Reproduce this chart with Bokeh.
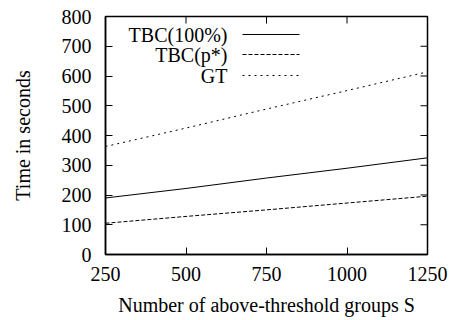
from bokeh.plotting import figure
from bokeh.models import Range1d, FixedTicker, Label, Arrow
from bokeh.embed import file_html
from bokeh.resources import INLINE

# data
groups = [250, 500, 750, 1000, 1250]
tbc_100 = [190, 222, 257, 290, 325]
tbc_p = [105, 128, 150, 173, 196]
gt = [363, 425, 489, 551, 614]
x_ticks = [250, 500, 750, 1000, 1250]
y_ticks = [0, 100, 200, 300, 400, 500, 600, 700, 800]
series_names = ["TBC(100%)", "TBC(p*)", "GT"]

FONT = "Liberation Serif"
FS = "20px"
X0, X1, Y0, Y1 = 250, 1250, 0, 800
FW, FH = 322, 238
TICK = 7

p = figure(frame_width=FW, frame_height=FH, output_backend="svg",
           toolbar_location=None, x_range=Range1d(X0, X1), y_range=Range1d(Y0, Y1),
           min_border_left=105, min_border_top=16, min_border_right=25, min_border_bottom=66,
           x_axis_label="Number of above-threshold groups S", y_axis_label="Time in seconds")
p.background_fill_color = "white"
p.border_fill_color = "white"
p.grid.visible = False
p.outline_line_color = "black"
p.outline_line_width = 1.5

styles = [dict(line_dash="solid"), dict(line_dash="4 2"), dict(line_dash="2 4")]
for ys, st in zip([tbc_100, tbc_p, gt], styles):
    p.line(groups, ys, line_color="black", line_width=1, **st)

for ax, ticks in ((p.xaxis[0], x_ticks), (p.yaxis[0], y_ticks)):
    ax.ticker = FixedTicker(ticks=ticks)
    ax.axis_line_color = "black"
    ax.axis_line_width = 1.5
    ax.major_tick_in = TICK
    ax.major_tick_out = 0
    ax.major_tick_line_width = 1
    ax.minor_tick_line_color = None
    ax.major_label_text_font = FONT
    ax.major_label_text_font_size = FS
    ax.major_label_text_color = "black"
    ax.axis_label_text_font = FONT
    ax.axis_label_text_font_size = FS
    ax.axis_label_text_font_style = "normal"
    ax.axis_label_text_color = "black"
p.xaxis.major_label_standoff = 12
p.xaxis.axis_label_standoff = 10
p.yaxis.major_label_standoff = 14
p.yaxis.axis_label_standoff = 25

# mirrored inward ticks on top and right edges
dx = TICK * (X1 - X0) / FW
dy = TICK * (Y1 - Y0) / FH
p.segment(x0=x_ticks, y0=[Y1] * len(x_ticks), x1=x_ticks, y1=[Y1 - dy] * len(x_ticks),
          line_color="black", line_width=1)
p.segment(x0=[X1] * len(y_ticks), y0=y_ticks, x1=[X1 - dx] * len(y_ticks), y1=y_ticks,
          line_color="black", line_width=1)

# manual legend (text right aligned, sample on the right)
leg_y = [220, 200, 179]
for name, st, yy in zip(series_names, styles, leg_y):
    p.add_layout(Label(x=122, y=yy, x_units="screen", y_units="screen", text=name,
                       text_align="right", text_baseline="middle",
                       text_font=FONT, text_font_size=FS, text_color="black"))
    p.add_layout(Arrow(end=None, x_start=137, y_start=yy, x_end=194, y_end=yy,
                       start_units="screen", end_units="screen",
                       line_color="black", line_width=1, **st))

open("out.html", "w").write(file_html(p, INLINE))
